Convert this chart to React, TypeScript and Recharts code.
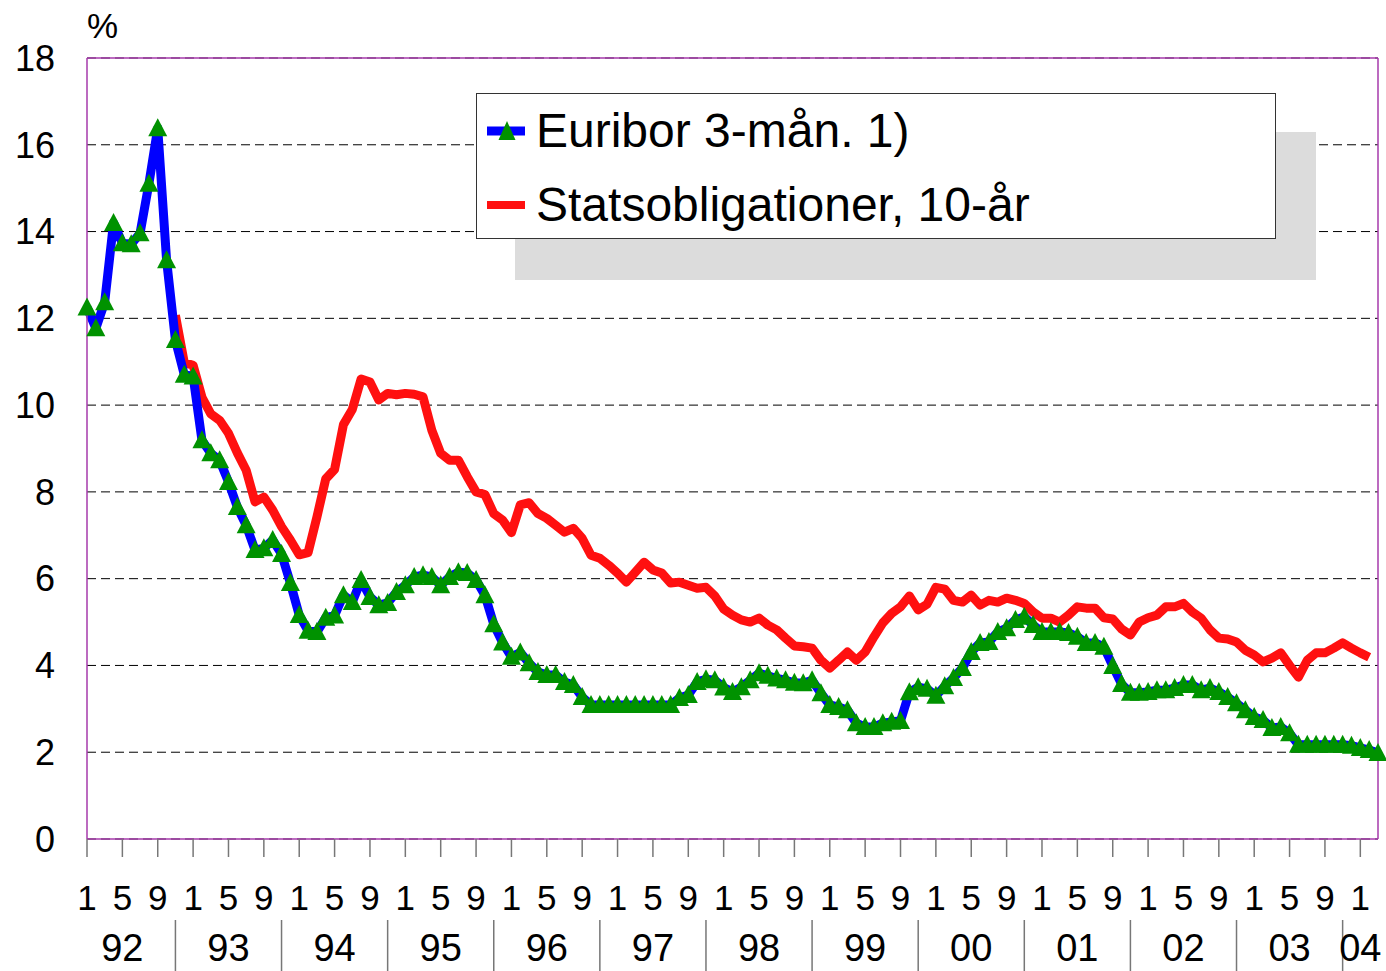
import React from 'react';
import { LineChart, Line, XAxis, YAxis, CartesianGrid, ReferenceLine, Legend } from 'recharts';

// monthly, Jan 1992 .. Mar 2004
const euribor = [
  12.25, 11.77, 12.37, 14.2, 13.73, 13.71, 13.96, 15.1, 16.38, 13.34, 11.5, 10.7,
  10.66, 9.19, 8.89, 8.73, 8.23, 7.65, 7.23, 6.66, 6.7, 6.89, 6.57, 5.9,
  5.16, 4.8, 4.77, 5.1, 5.15, 5.62, 5.46, 5.97, 5.58, 5.39, 5.44, 5.69,
  5.85, 6.04, 6.08, 6.04, 5.85, 6.04, 6.15, 6.13, 5.97, 5.62, 4.95, 4.53,
  4.2, 4.3, 4.05, 3.85, 3.78, 3.78, 3.62, 3.55, 3.27, 3.09, 3.09, 3.09,
  3.09, 3.09, 3.09, 3.09, 3.09, 3.09, 3.09, 3.25, 3.32, 3.62, 3.68, 3.66,
  3.49, 3.39, 3.5, 3.66, 3.82, 3.76, 3.7, 3.66, 3.6, 3.59, 3.66, 3.36,
  3.09, 3.04, 2.97, 2.67, 2.58, 2.58, 2.67, 2.7, 2.72, 3.38, 3.5, 3.46,
  3.3, 3.52, 3.71, 3.94, 4.31, 4.52, 4.54, 4.77, 4.86, 5.05, 5.12, 4.93,
  4.77, 4.77, 4.77, 4.75, 4.66, 4.52, 4.52, 4.43, 3.99, 3.57, 3.37, 3.37,
  3.39, 3.43, 3.43, 3.48, 3.55, 3.55, 3.43, 3.48, 3.39, 3.27, 3.13, 2.97,
  2.81, 2.74, 2.56, 2.58, 2.44, 2.17, 2.17, 2.17, 2.17, 2.17, 2.17, 2.15,
  2.1, 2.05, 1.98,
];

// starts Nov 1992 (index 10), ends Feb 2004
const statsStart = 10;
const statsobligationer = [
  12.07, 10.98,
  10.92, 10.18, 9.8, 9.65, 9.35, 8.9, 8.5, 7.77, 7.88, 7.58, 7.2, 6.89,
  6.55, 6.6, 7.42, 8.3, 8.52, 9.55, 9.9, 10.6, 10.53, 10.12, 10.27, 10.24,
  10.27, 10.25, 10.19, 9.42, 8.89, 8.73, 8.73, 8.35, 8.0, 7.94, 7.5, 7.35,
  7.06, 7.7, 7.75, 7.5, 7.39, 7.23, 7.07, 7.16, 6.93, 6.54, 6.47, 6.31,
  6.13, 5.92, 6.15, 6.38, 6.2, 6.13, 5.9, 5.92, 5.85, 5.78, 5.8, 5.6,
  5.3, 5.16, 5.05, 5.0, 5.09, 4.93, 4.82, 4.63, 4.45, 4.43, 4.4, 4.12,
  3.94, 4.12, 4.31, 4.12, 4.31, 4.66, 4.98, 5.2, 5.35, 5.6, 5.28, 5.41,
  5.8, 5.76, 5.5, 5.46, 5.62, 5.39, 5.5, 5.46, 5.55, 5.5, 5.43, 5.23,
  5.09, 5.09, 5.0, 5.16, 5.35, 5.32, 5.32, 5.1, 5.07, 4.84, 4.7, 5.0,
  5.1, 5.16, 5.35, 5.35, 5.43, 5.23, 5.09, 4.82, 4.63, 4.61, 4.54, 4.35,
  4.24, 4.08, 4.17, 4.29, 4.0, 3.73, 4.12, 4.29, 4.29, 4.4, 4.52, 4.4,
  4.29, 4.19,
];

const monthLabels = ['1', '5', '9'];
const yearLabels = ['92', '93', '94', '95', '96', '97', '98', '99', '00', '01', '02', '03', '04'];
const yTicks = [0, 2, 4, 6, 8, 10, 12, 14, 16, 18];

const seriesNames = ['Euribor 3-mån. 1)', 'Statsobligationer, 10-år'];

const FONT = '"Liberation Sans", Arial, Helvetica, sans-serif';
const PURPLE = '#a63aab';
const BLUE = '#0000ff';
const RED = '#ff1010';
const GREEN = '#009200';

const lastIdx = euribor.length - 1;

const data = euribor.map((v, i) => {
  const s = i - statsStart;
  return {
    i,
    euribor: v,
    stats: s >= 0 && s < statsobligationer.length ? statsobligationer[s] : null,
  };
});

const monthTicks = data.filter(d => d.i % 4 === 0).map(d => d.i);
const yearPos = yearLabels.map((_, k) => (12 * k + 4 <= lastIdx ? 12 * k + 4 : 12 * k));
const separators = yearLabels.map((_, k) => 12 * k + 10).filter(p => p <= lastIdx);
const xTicks = Array.from(new Set([...monthTicks, ...separators])).sort((a, b) => a - b);

const XTick = (props: any) => {
  const { x, y, payload } = props;
  const i = payload.value as number;
  const yi = yearPos.indexOf(i);
  return (
    <g>
      {i % 4 === 0 && <line x1={x} y1={y} x2={x} y2={y + 18} stroke="#777" strokeWidth={1.5} />}
      {i % 4 === 0 && (
        <text x={x} y={y + 58} textAnchor="middle" dominantBaseline="central" fontSize={35} fill="#000" fontFamily={FONT}>
          {monthLabels[(i % 12) / 4]}
        </text>
      )}
      {yi >= 0 && (
        <text x={x} y={y + 109} textAnchor="middle" dominantBaseline="central" fontSize={38} fill="#000" fontFamily={FONT}>
          {yearLabels[yi]}
        </text>
      )}
      {separators.includes(i) && <line x1={x} y1={y + 81} x2={x} y2={y + 132} stroke="#777" strokeWidth={1.5} />}
    </g>
  );
};

const Triangle = (props: any) => {
  const { cx, cy, index } = props;
  if (cx == null || cy == null) return <g key={index} />;
  return <path key={index} d={`M${cx},${cy - 10} L${cx + 9.5},${cy + 8} L${cx - 9.5},${cy + 8} Z`} fill={GREEN} />;
};

const LegendBox = () => (
  <div style={{ position: 'relative', width: 800, height: 146, fontFamily: FONT }}>
    <div style={{ position: 'absolute', left: 39, top: 39, width: 801, height: 148, background: '#dcdcdc' }} />
    <div
      style={{
        position: 'absolute', left: 0, top: 0, width: 800, height: 146,
        boxSizing: 'border-box', border: '1px solid #333', background: '#fff',
      }}
    >
      {seriesNames.map((name, k) => (
        <div
          key={name}
          style={{
            position: 'absolute', left: 10, top: (k === 0 ? 37 : 111) - 25, height: 50,
            display: 'flex', alignItems: 'center', whiteSpace: 'nowrap',
          }}
        >
          <svg width={40} height={24} style={{ marginRight: 9 }}>
            <line x1={0} y1={12} x2={38} y2={12} stroke={k === 0 ? BLUE : RED} strokeWidth={k === 0 ? 9 : 8} />
            {k === 0 && <path d="M20,2 L28.5,21 L11.5,21 Z" fill={GREEN} />}
          </svg>
          <span style={{ fontSize: 48, lineHeight: '50px', color: '#000' }}>{name}</span>
        </div>
      ))}
    </div>
  </div>
);

const App: React.FC = () => {
  return (
    <div style={{ position: 'absolute', left: 0, top: 0, width: 1386, height: 971, background: '#fff', fontFamily: FONT }}>
      <div style={{ position: 'absolute', left: 87, top: 8, fontSize: 35, lineHeight: '35px', color: '#000' }}>%</div>
      <LineChart width={1386} height={971} data={data} margin={{ top: 58, right: 8, left: 0, bottom: 0 }}>
        <CartesianGrid horizontal vertical={false} stroke="#000" strokeDasharray="9 5" />
        <XAxis
          dataKey="i"
          type="number"
          domain={[0, lastIdx]}
          ticks={xTicks}
          interval={0}
          height={132}
          tickSize={0}
          tickMargin={0}
          tickLine={false}
          axisLine={{ stroke: PURPLE, strokeWidth: 1.5 }}
          tick={<XTick />}
        />
        <YAxis
          domain={[0, 18]}
          ticks={yTicks}
          interval={0}
          width={87}
          tickSize={0}
          tickMargin={32}
          tickLine={false}
          axisLine={{ stroke: PURPLE, strokeWidth: 1.5 }}
          tick={{ fontSize: 36, fill: '#000', fontFamily: FONT }}
        />
        <ReferenceLine y={18} stroke={PURPLE} strokeWidth={1.5} />
        <ReferenceLine x={lastIdx} stroke={PURPLE} strokeWidth={1.5} />
        <Legend
          layout="horizontal"
          verticalAlign="middle"
          align="center"
          wrapperStyle={{ left: 476, top: 93, width: 800, height: 146 }}
          content={() => <LegendBox />}
        />
        <Line
          type="linear"
          dataKey="stats"
          name={seriesNames[1]}
          stroke={RED}
          strokeWidth={9}
          strokeLinejoin="round"
          dot={false}
          activeDot={false}
          isAnimationActive={false}
        />
        <Line
          type="linear"
          dataKey="euribor"
          name={seriesNames[0]}
          stroke={BLUE}
          strokeWidth={9}
          strokeLinejoin="round"
          dot={<Triangle />}
          activeDot={false}
          isAnimationActive={false}
        />
      </LineChart>
    </div>
  );
};

export default App;
